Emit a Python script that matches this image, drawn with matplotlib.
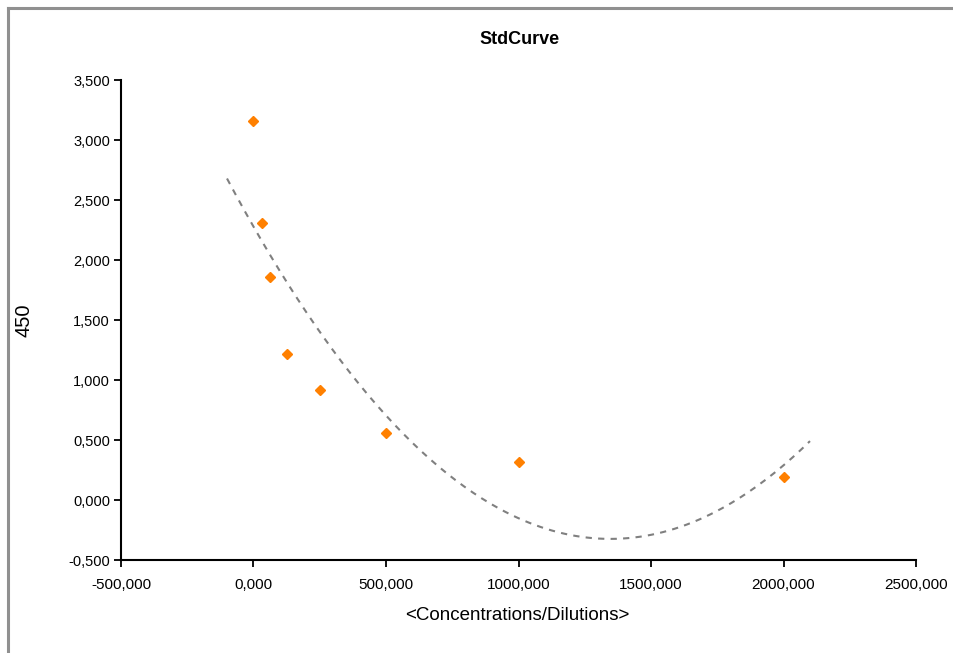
import numpy as np
import matplotlib
matplotlib.use('Agg')
import matplotlib.pyplot as plt
from matplotlib.ticker import FuncFormatter
from matplotlib.lines import Line2D

plt.rcParams['font.family'] = ['Liberation Sans', 'DejaVu Sans']

# standard curve data (concentration / dilution vs OD 450)
conc = [0, 31.25, 62.5, 125, 250, 500, 1000, 2000]
od450 = [3.16, 2.31, 1.86, 1.22, 0.92, 0.56, 0.32, 0.19]
trend_range = [-100, 2100]  # trendline forecast backward/forward

x_ticks = [-500, 0, 500, 1000, 1500, 2000, 2500]
y_ticks = [-0.5, 0.0, 0.5, 1.0, 1.5, 2.0, 2.5, 3.0, 3.5]

# 2nd order polynomial trendline
coef = np.polyfit(conc, od450, 2)
xt = np.linspace(trend_range[0], trend_range[1], 200)
yt = np.polyval(coef, xt)

fig = plt.figure(figsize=(9.54, 6.53), dpi=100)
ax = fig.add_axes([121 / 954, 1 - 560 / 653, 795 / 954, 480 / 653])

ax.plot(xt, yt, color='#808080', linestyle=(0, (3, 3)), linewidth=1.5, zorder=2)
ax.plot(conc, od450, linestyle='none', marker='D', markersize=5,
        color='#FF8000', markeredgecolor='#FF8000', zorder=3)

ax.set_xlim(x_ticks[0], x_ticks[-1])
ax.set_ylim(y_ticks[0], y_ticks[-1])
ax.set_xticks(x_ticks)
ax.set_yticks(y_ticks)

fmt = FuncFormatter(lambda v, p: f"{v:.3f}".replace('.', ','))
ax.xaxis.set_major_formatter(fmt)
ax.yaxis.set_major_formatter(fmt)

for s in ['top', 'right']:
    ax.spines[s].set_visible(False)
for s in ['left', 'bottom']:
    ax.spines[s].set_linewidth(1.5)
ax.tick_params(axis='both', direction='out', length=5, width=1.3, color='black')
ax.tick_params(axis='x', pad=8, labelsize=11)
ax.tick_params(axis='y', pad=3, labelsize=10.5)

fig.text(520 / 954, 1 - 40 / 653, 'StdCurve', ha='center', va='center',
         fontsize=13, fontweight='bold')
fig.text(517 / 954, 1 - 615 / 653, '<Concentrations/Dilutions>', ha='center',
         va='center', fontsize=13.5)
fig.text(24 / 954, 1 - 320 / 653, '450', ha='center', va='center',
         rotation=90, fontsize=14.5)

# chart area border (left and top edges visible)
fig.add_artist(Line2D([8 / 954, 8 / 954], [0, 1 - 8 / 653], transform=fig.transFigure,
                      color='#909090', linewidth=2.2))
fig.add_artist(Line2D([8 / 954, 1], [1 - 8 / 653, 1 - 8 / 653], transform=fig.transFigure,
                      color='#909090', linewidth=2.2))

fig.savefig('out.png', dpi=100)
